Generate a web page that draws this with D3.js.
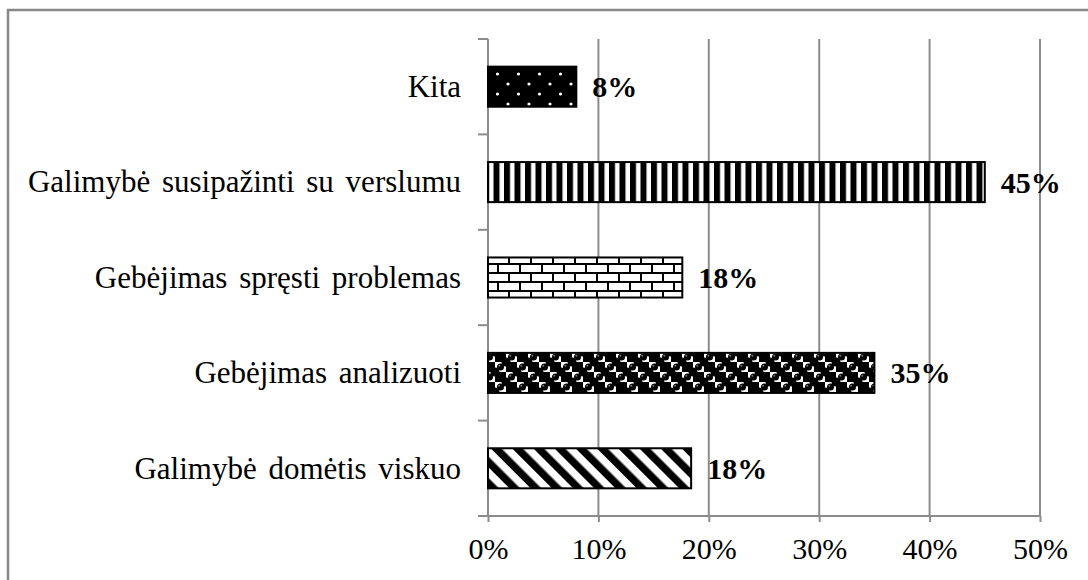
<!DOCTYPE html>
<html>
<head>
<meta charset="utf-8">
<script src="https://cdn.jsdelivr.net/npm/d3@7"></script>
<style>
  body { margin: 0; background: #fff; }
  text { font-family: "Liberation Serif", "Times New Roman", serif; }
</style>
</head>
<body>
<svg id="chart" width="1088" height="580"></svg>
<script>
// data
var categories = ["Kita", "Galimybė susipažinti su verslumu", "Gebėjimas spręsti problemas",
                  "Gebėjimas analizuoti", "Galimybė domėtis viskuo"];
var values = [8, 45, 17.6, 35, 18.4];
var patternIds = ["dots", "vstripes", "bricks", "spheres", "diag"];
var ticks = [0, 0.1, 0.2, 0.3, 0.4, 0.5];

var svg = d3.select("#chart");
var plot = { left: 488, right: 1040, top: 39, bottom: 516 };

var x = d3.scaleLinear().domain([0, 0.5]).range([plot.left, plot.right]);
var y = d3.scaleBand().domain(categories).range([plot.top, plot.bottom]).paddingInner(0.58).paddingOuter(0.29);

// fill patterns
var defs = svg.append("defs");

var p = defs.append("pattern").attr("id", "dots").attr("patternUnits", "userSpaceOnUse")
  .attr("width", 21).attr("height", 20);
p.append("rect").attr("width", 21).attr("height", 20).attr("fill", "#000");
p.append("circle").attr("cx", 4).attr("cy", 4).attr("r", 1.6).attr("fill", "#fff");
p.append("circle").attr("cx", 14.5).attr("cy", 14).attr("r", 1.6).attr("fill", "#fff");

p = defs.append("pattern").attr("id", "vstripes").attr("patternUnits", "userSpaceOnUse")
  .attr("width", 10.5).attr("height", 10);
p.append("rect").attr("width", 10.5).attr("height", 10).attr("fill", "#fff");
p.append("rect").attr("x", 0).attr("width", 6).attr("height", 10).attr("fill", "#000");

p = defs.append("pattern").attr("id", "bricks").attr("patternUnits", "userSpaceOnUse")
  .attr("width", 22).attr("height", 18).attr("y", 2);
p.append("rect").attr("width", 22).attr("height", 18).attr("fill", "#fff");
p.append("path").attr("d", "M0,1H22M0,10H22M3,1V10M14,10V18")
  .attr("stroke", "#000").attr("stroke-width", 2).attr("fill", "none");

p = defs.append("pattern").attr("id", "spheres").attr("patternUnits", "userSpaceOnUse")
  .attr("width", 22).attr("height", 20).attr("y", 2);
p.append("rect").attr("width", 22).attr("height", 20).attr("fill", "#fff");
p.append("rect").attr("x", 0).attr("y", 0).attr("width", 11).attr("height", 10).attr("fill", "#000");
p.append("rect").attr("x", 11).attr("y", 10).attr("width", 11).attr("height", 10).attr("fill", "#000");
[[11, 10], [0, 0], [22, 0], [0, 20], [22, 20]].forEach(function(c)
{
  p.append("circle").attr("cx", c[0]).attr("cy", c[1]).attr("r", 4.5).attr("fill", "#000");
});
[[5.5, 15], [16.5, 5]].forEach(function(c)
{
  p.append("circle").attr("cx", c[0]).attr("cy", c[1]).attr("r", 3.5).attr("fill", "#000");
  p.append("circle").attr("cx", c[0] - 1.2).attr("cy", c[1] - 1.2).attr("r", 1).attr("fill", "#777");
});

p = defs.append("pattern").attr("id", "diag").attr("patternUnits", "userSpaceOnUse")
  .attr("width", 15).attr("height", 15).attr("patternTransform", "rotate(-45)");
p.append("rect").attr("width", 15).attr("height", 15).attr("fill", "#fff");
p.append("rect").attr("width", 7.5).attr("height", 15).attr("fill", "#000");

// outer frame
svg.append("rect").attr("x", 8).attr("y", 10).attr("width", 1200).attr("height", 700)
  .attr("fill", "none").attr("stroke", "#888").attr("stroke-width", 2.5);

// vertical gridlines
svg.append("g").selectAll("line").data(ticks.slice(1)).enter().append("line")
  .attr("x1", function(d) { return x(d); }).attr("x2", function(d) { return x(d); })
  .attr("y1", plot.top).attr("y2", plot.bottom)
  .attr("stroke", "#8c8c8c").attr("stroke-width", 2);

// bottom axis
var xAxis = svg.append("g").attr("transform", "translate(0," + plot.bottom + ")")
  .call(d3.axisBottom(x).tickValues(ticks).tickFormat(d3.format(".0%")).tickSize(6).tickPadding(16));
xAxis.select(".domain").attr("stroke", "#8c8c8c").attr("stroke-width", 2)
  .attr("d", "M" + (plot.left - 10) + ",0H" + plot.right);
xAxis.selectAll(".tick line").attr("stroke", "#8c8c8c").attr("stroke-width", 2);
xAxis.selectAll(".tick text").attr("font-size", 30).attr("fill", "#000")
  .attr("font-family", "Liberation Serif");

// left axis with ticks between categories
var bounds = d3.range(categories.length + 1).map(function(i) { return plot.top + i * (plot.bottom - plot.top) / categories.length; });
svg.append("line").attr("x1", plot.left).attr("x2", plot.left).attr("y1", plot.top).attr("y2", plot.bottom)
  .attr("stroke", "#8c8c8c").attr("stroke-width", 2);
svg.append("g").selectAll("line").data(bounds.slice(0, -1)).enter().append("line")
  .attr("x1", plot.left - 10).attr("x2", plot.left).attr("y1", function(d) { return d; }).attr("y2", function(d) { return d; })
  .attr("stroke", "#8c8c8c").attr("stroke-width", 2);

// category labels
svg.append("g").selectAll("text").data(categories).enter().append("text")
  .attr("x", 461).attr("y", function(d) { return y(d) + y.bandwidth() / 2; })
  .attr("dy", "0.33em").attr("text-anchor", "end").attr("font-size", 31)
  .attr("word-spacing", 4)
  .text(function(d) { return d; });

// bars
svg.append("g").selectAll("rect").data(values).enter().append("rect")
  .attr("x", x(0))
  .attr("y", function(d, i) { return y(categories[i]); })
  .attr("width", function(d) { return x(d / 100) - x(0); })
  .attr("height", y.bandwidth())
  .attr("fill", function(d, i) { return "url(#" + patternIds[i] + ")"; })
  .attr("stroke", "#000").attr("stroke-width", 2);

// value labels
svg.append("g").selectAll("text").data(values).enter().append("text")
  .attr("x", function(d) { return x(d / 100) + 16; })
  .attr("y", function(d, i) { return y(categories[i]) + y.bandwidth() / 2; })
  .attr("dy", "0.35em").attr("font-size", 30).attr("font-weight", "bold")
  .text(function(d) { return Math.round(d) + "%"; });
</script>
</body>
</html>
